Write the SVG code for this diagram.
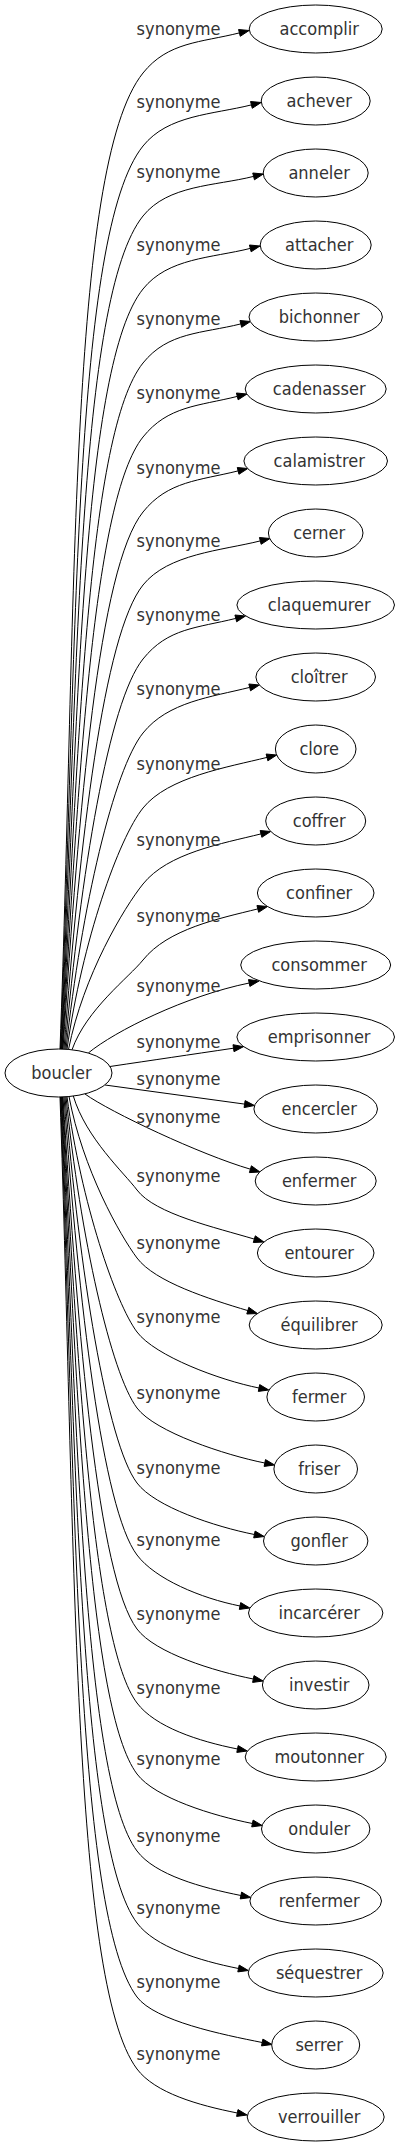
<svg xmlns="http://www.w3.org/2000/svg" width="400" height="2147" viewBox="0 0 400 2147">
<style>
.n ellipse{fill:#ffffff;stroke:#000000;stroke-width:1}
.n text,.e text{font-family:'DejaVu Sans Condensed','DejaVu Sans',sans-serif;font-stretch:condensed;font-size:18px;fill:#333333;text-anchor:middle}
.e path{fill:none;stroke:#000000;stroke-width:1}
.e polygon{fill:#000000;stroke:#000000;stroke-width:1}
</style>
<rect x="0" y="0" width="400" height="2147" fill="#ffffff"/>
<g id="connectors">
<g class="e" id="e-accomplir"><path d="M60,1049 C76.6,609.8 68.4,166.1 143,73 C168,41.8 200.6,42.6 239.4,32.9"/><polygon points="249.1,30.5 240.25,36.3 238.55,29.5"/><text x="178.5" y="34.5">synonyme</text></g>
<g class="e" id="e-achever"><path d="M60.5,1049 C77,642.6 73.4,232.8 143,146 C168,114.8 212.6,114.6 251.4,104.9"/><polygon points="261.1,102.5 252.25,108.3 250.55,101.5"/><text x="178.5" y="107.5">synonyme</text></g>
<g class="e" id="e-anneler"><path d="M61,1049 C77.4,674.1 78.2,296.8 143,216 C168,184.8 214.8,186.1 253.6,176.4"/><polygon points="263.3,174 254.45,179.8 252.75,173"/><text x="178.5" y="177.5">synonyme</text></g>
<g class="e" id="e-attacher"><path d="M61.5,1049 C77.8,707 83.2,363.6 143,289 C168,257.8 211.5,258.1 250.3,248.4"/><polygon points="260,246 251.15,251.8 249.45,245"/><text x="178.5" y="250.5">synonyme</text></g>
<g class="e" id="e-bichonner"><path d="M62,1049 C78.2,740.3 88.3,431.2 143,363 C168,331.8 202,333.6 240.8,323.9"/><polygon points="250.5,321.5 241.65,327.3 239.95,320.5"/><text x="178.5" y="324.5">synonyme</text></g>
<g class="e" id="e-cadenasser"><path d="M62.5,1049 C78.6,773.6 93.4,498.9 143,437 C168,405.8 198.5,406.1 237.3,396.4"/><polygon points="247,394 238.15,399.8 236.45,393"/><text x="178.5" y="398.5">synonyme</text></g>
<g class="e" id="e-calamistrer"><path d="M63,1049 C79,807.3 98.6,567.4 143,512 C168,480.8 199.3,480.6 238.1,470.9"/><polygon points="247.8,468.5 238.95,474.3 237.25,467.5"/><text x="178.5" y="473.5">synonyme</text></g>
<g class="e" id="e-cerner"><path d="M64,1049.1 C79.8,840.3 103.6,634.2 143,585 C168,553.8 221.5,550.6 260.3,540.9"/><polygon points="270,538.5 261.15,544.3 259.45,537.5"/><text x="178.5" y="546.5">synonyme</text></g>
<g class="e" id="e-claquemurer"><path d="M65,1049.2 C80.6,873.6 108.7,701.8 143,659 C168,627.8 197,628.1 235.8,618.4"/><polygon points="245.5,616 236.65,621.8 234.95,615"/><text x="178.5" y="620.5">synonyme</text></g>
<g class="e" id="e-cloitrer"><path d="M66,1049.3 C81.4,907 113.8,769.5 143,733 C168,701.8 210.9,697.1 249.7,687.4"/><polygon points="259.4,685 250.55,690.8 248.85,684"/><text x="178.5" y="694.5">synonyme</text></g>
<g class="e" id="e-clore"><path d="M67,1049.3 C82.2,940.7 118.9,838 143,808 C168,776.8 228.2,767.1 267,757.4"/><polygon points="276.7,755 267.85,760.8 266.15,754"/><text x="178.5" y="769.5">synonyme</text></g>
<g class="e" id="e-coffrer"><path d="M68.5,1049.4 C83.4,975 124.1,907.6 143,884 C168,852.8 222.2,843.6 261,833.9"/><polygon points="270.7,831.5 261.85,837.3 260.15,830.5"/><text x="178.5" y="845.5">synonyme</text></g>
<g class="e" id="e-confiner"><path d="M72,1049.8 C86.2,1009.4 129.3,977.1 143,960 C168,928.8 219,918.6 257.8,908.9"/><polygon points="267.5,906.5 258.65,912.3 256.95,905.5"/><text x="178.5" y="921.5">synonyme</text></g>
<g class="e" id="e-consommer"><path d="M88.3,1053 C115,1031 185.5,996 249.2,983"/><polygon points="259,981 249.9,986.4 248.5,979.6"/><text x="178.5" y="992">synonyme</text></g>
<g class="e" id="e-emprisonner"><path d="M110,1066.5 C154.5,1059.9 189,1054.8 233.5,1048.2"/><polygon points="243.4,1046.7 234,1051.7 233,1044.7"/><text x="178.5" y="1047.5">synonyme</text></g>
<g class="e" id="e-encercler"><path d="M105,1085 C151.5,1091.4 198,1097.7 244.6,1104.1"/><polygon points="254.5,1105.5 244.1,1107.6 245.1,1100.6"/><text x="178.5" y="1085">synonyme</text></g>
<g class="e" id="e-enfermer"><path d="M85,1094 C110,1112 200.5,1154.6 250.4,1169.2"/><polygon points="260,1172 249.4,1172.6 251.4,1165.8"/><text x="178.5" y="1123">synonyme</text></g>
<g class="e" id="e-entourer"><path d="M73.3,1096 C86,1138.3 124.2,1172.9 137,1190 C155,1214 216,1227.6 254.3,1239.1"/><polygon points="263.9,1242 253.3,1242.5 255.3,1235.8"/><text x="178.5" y="1181.5">synonyme</text></g>
<g class="e" id="e-equilibrer"><path d="M69,1096.5 C82.6,1169.2 120.1,1235.4 137,1258 C155,1282 209.5,1299.1 247.8,1310.6"/><polygon points="257.4,1313.5 246.8,1314 248.8,1307.3"/><text x="178.5" y="1248.5">synonyme</text></g>
<g class="e" id="e-fermer"><path d="M67,1096.7 C81,1202.6 115.7,1303.6 137,1332 C155,1356 219.8,1380.2 259,1388"/><polygon points="268.8,1390 258.3,1391.4 259.7,1384.6"/><text x="178.5" y="1322.5">synonyme</text></g>
<g class="e" id="e-friser"><path d="M66,1096.7 C80.2,1236.8 111.1,1373.5 137,1408 C155,1432 225.6,1455.2 264.8,1463"/><polygon points="274.6,1465 264.1,1466.4 265.5,1459.6"/><text x="178.5" y="1398.5">synonyme</text></g>
<g class="e" id="e-gonfler"><path d="M65,1096.8 C79.4,1270.6 106.6,1442.5 137,1483 C155,1507 215.2,1526.7 254.4,1534.5"/><polygon points="264.2,1536.5 253.7,1537.9 255.1,1531.1"/><text x="178.5" y="1473.5">synonyme</text></g>
<g class="e" id="e-incarcerer"><path d="M64,1096.9 C78.6,1303 102.3,1508.8 137,1555 C155,1579 200.8,1598.2 240,1606"/><polygon points="249.8,1608 239.3,1609.4 240.7,1602.6"/><text x="178.5" y="1545.5">synonyme</text></g>
<g class="e" id="e-investir"><path d="M63,1097 C77.8,1336.4 97.9,1576.8 137,1629 C155,1653 214.1,1671.2 253.3,1679"/><polygon points="263.1,1681 252.6,1682.4 254,1675.6"/><text x="178.5" y="1619.5">synonyme</text></g>
<g class="e" id="e-moutonner"><path d="M62.5,1097 C77.4,1369.7 93.4,1644.9 137,1703 C155,1727 198.3,1741.2 237.5,1749"/><polygon points="247.3,1751 236.8,1752.4 238.2,1745.6"/><text x="178.5" y="1693.5">synonyme</text></g>
<g class="e" id="e-onduler"><path d="M62,1097 C77,1401.7 89.2,1710.2 137,1774 C155,1798 213.2,1815.7 252.4,1823.5"/><polygon points="262.2,1825.5 251.7,1826.9 253.1,1820.1"/><text x="178.5" y="1764.5">synonyme</text></g>
<g class="e" id="e-renfermer"><path d="M61.5,1097 C76.6,1436.3 84.6,1781.1 137,1851 C155,1875 201.7,1887.7 240.9,1895.5"/><polygon points="250.7,1897.5 240.2,1898.9 241.6,1892.1"/><text x="178.5" y="1841.5">synonyme</text></g>
<g class="e" id="e-sequestrer"><path d="M61,1097 C76.2,1468.7 80.2,1847.3 137,1923 C155,1947 199.3,1960.7 238.5,1968.5"/><polygon points="248.3,1970.5 237.8,1971.9 239.2,1965.1"/><text x="178.5" y="1913.5">synonyme</text></g>
<g class="e" id="e-serrer"><path d="M60.5,1097 C75.8,1502 75.8,1915.4 137,1997 C155,2021 223,2034.7 262.2,2042.5"/><polygon points="272,2044.5 261.5,2045.9 262.9,2039.1"/><text x="178.5" y="1987.5">synonyme</text></g>
<g class="e" id="e-verrouiller"><path d="M60,1097 C75.4,1534.4 71.5,1981.6 137,2069 C155,2093 198.1,2105.2 237.3,2113"/><polygon points="247.1,2115 236.6,2116.4 238,2109.6"/><text x="178.5" y="2059.5">synonyme</text></g>
</g>
<g class="n" id="node-boucler"><ellipse cx="58.5" cy="1073" rx="53.5" ry="24"/><text x="61.5" y="1079">boucler</text></g>
<g class="n" id="node-accomplir"><ellipse cx="315.7" cy="29" rx="66.5" ry="24"/><text x="319.2" y="35">accomplir</text></g>
<g class="n" id="node-achever"><ellipse cx="315.7" cy="101" rx="54.5" ry="24"/><text x="319.2" y="107">achever</text></g>
<g class="n" id="node-anneler"><ellipse cx="315.7" cy="173" rx="52.5" ry="24"/><text x="319.2" y="179">anneler</text></g>
<g class="n" id="node-attacher"><ellipse cx="315.7" cy="245" rx="55.5" ry="24"/><text x="319.2" y="251">attacher</text></g>
<g class="n" id="node-bichonner"><ellipse cx="315.7" cy="317" rx="66.7" ry="24"/><text x="319.2" y="323">bichonner</text></g>
<g class="n" id="node-cadenasser"><ellipse cx="315.7" cy="389" rx="70.5" ry="24"/><text x="319.2" y="395">cadenasser</text></g>
<g class="n" id="node-calamistrer"><ellipse cx="315.7" cy="461" rx="71.8" ry="24"/><text x="319.2" y="467">calamistrer</text></g>
<g class="n" id="node-cerner"><ellipse cx="315.7" cy="533" rx="47.3" ry="24"/><text x="319.2" y="539">cerner</text></g>
<g class="n" id="node-claquemurer"><ellipse cx="315.7" cy="605" rx="78.8" ry="24"/><text x="319.2" y="611">claquemurer</text></g>
<g class="n" id="node-cloitrer"><ellipse cx="315.7" cy="677" rx="59.8" ry="24"/><text x="319.2" y="683">cloîtrer</text></g>
<g class="n" id="node-clore"><ellipse cx="315.7" cy="749" rx="40.3" ry="24"/><text x="319.2" y="755">clore</text></g>
<g class="n" id="node-coffrer"><ellipse cx="315.7" cy="821" rx="50" ry="24"/><text x="319.2" y="827">coffrer</text></g>
<g class="n" id="node-confiner"><ellipse cx="315.7" cy="893" rx="58.3" ry="24"/><text x="319.2" y="899">confiner</text></g>
<g class="n" id="node-consommer"><ellipse cx="315.7" cy="965" rx="75" ry="24"/><text x="319.2" y="971">consommer</text></g>
<g class="n" id="node-emprisonner"><ellipse cx="315.7" cy="1037" rx="78.8" ry="24"/><text x="319.2" y="1043">emprisonner</text></g>
<g class="n" id="node-encercler"><ellipse cx="315.7" cy="1109" rx="61.8" ry="24"/><text x="319.2" y="1115">encercler</text></g>
<g class="n" id="node-enfermer"><ellipse cx="315.7" cy="1181" rx="60.5" ry="24"/><text x="319.2" y="1187">enfermer</text></g>
<g class="n" id="node-entourer"><ellipse cx="315.7" cy="1253" rx="58.3" ry="24"/><text x="319.2" y="1259">entourer</text></g>
<g class="n" id="node-equilibrer"><ellipse cx="315.7" cy="1325" rx="66.5" ry="24"/><text x="319.2" y="1331">équilibrer</text></g>
<g class="n" id="node-fermer"><ellipse cx="315.7" cy="1397" rx="48.8" ry="24"/><text x="319.2" y="1403">fermer</text></g>
<g class="n" id="node-friser"><ellipse cx="315.7" cy="1469" rx="41.8" ry="24"/><text x="319.2" y="1475">friser</text></g>
<g class="n" id="node-gonfler"><ellipse cx="315.7" cy="1541" rx="52.2" ry="24"/><text x="319.2" y="1547">gonfler</text></g>
<g class="n" id="node-incarcerer"><ellipse cx="315.7" cy="1613" rx="67.2" ry="24"/><text x="319.2" y="1619">incarcérer</text></g>
<g class="n" id="node-investir"><ellipse cx="315.7" cy="1685" rx="53.3" ry="24"/><text x="319.2" y="1691">investir</text></g>
<g class="n" id="node-moutonner"><ellipse cx="315.7" cy="1757" rx="70.5" ry="24"/><text x="319.2" y="1763">moutonner</text></g>
<g class="n" id="node-onduler"><ellipse cx="315.7" cy="1829" rx="54.2" ry="24"/><text x="319.2" y="1835">onduler</text></g>
<g class="n" id="node-renfermer"><ellipse cx="315.7" cy="1901" rx="65.8" ry="24"/><text x="319.2" y="1907">renfermer</text></g>
<g class="n" id="node-sequestrer"><ellipse cx="315.7" cy="1973" rx="67.5" ry="24"/><text x="319.2" y="1979">séquestrer</text></g>
<g class="n" id="node-serrer"><ellipse cx="315.7" cy="2045" rx="44" ry="24"/><text x="319.2" y="2051">serrer</text></g>
<g class="n" id="node-verrouiller"><ellipse cx="315.7" cy="2117" rx="68.5" ry="24"/><text x="319.2" y="2123">verrouiller</text></g>
</svg>
